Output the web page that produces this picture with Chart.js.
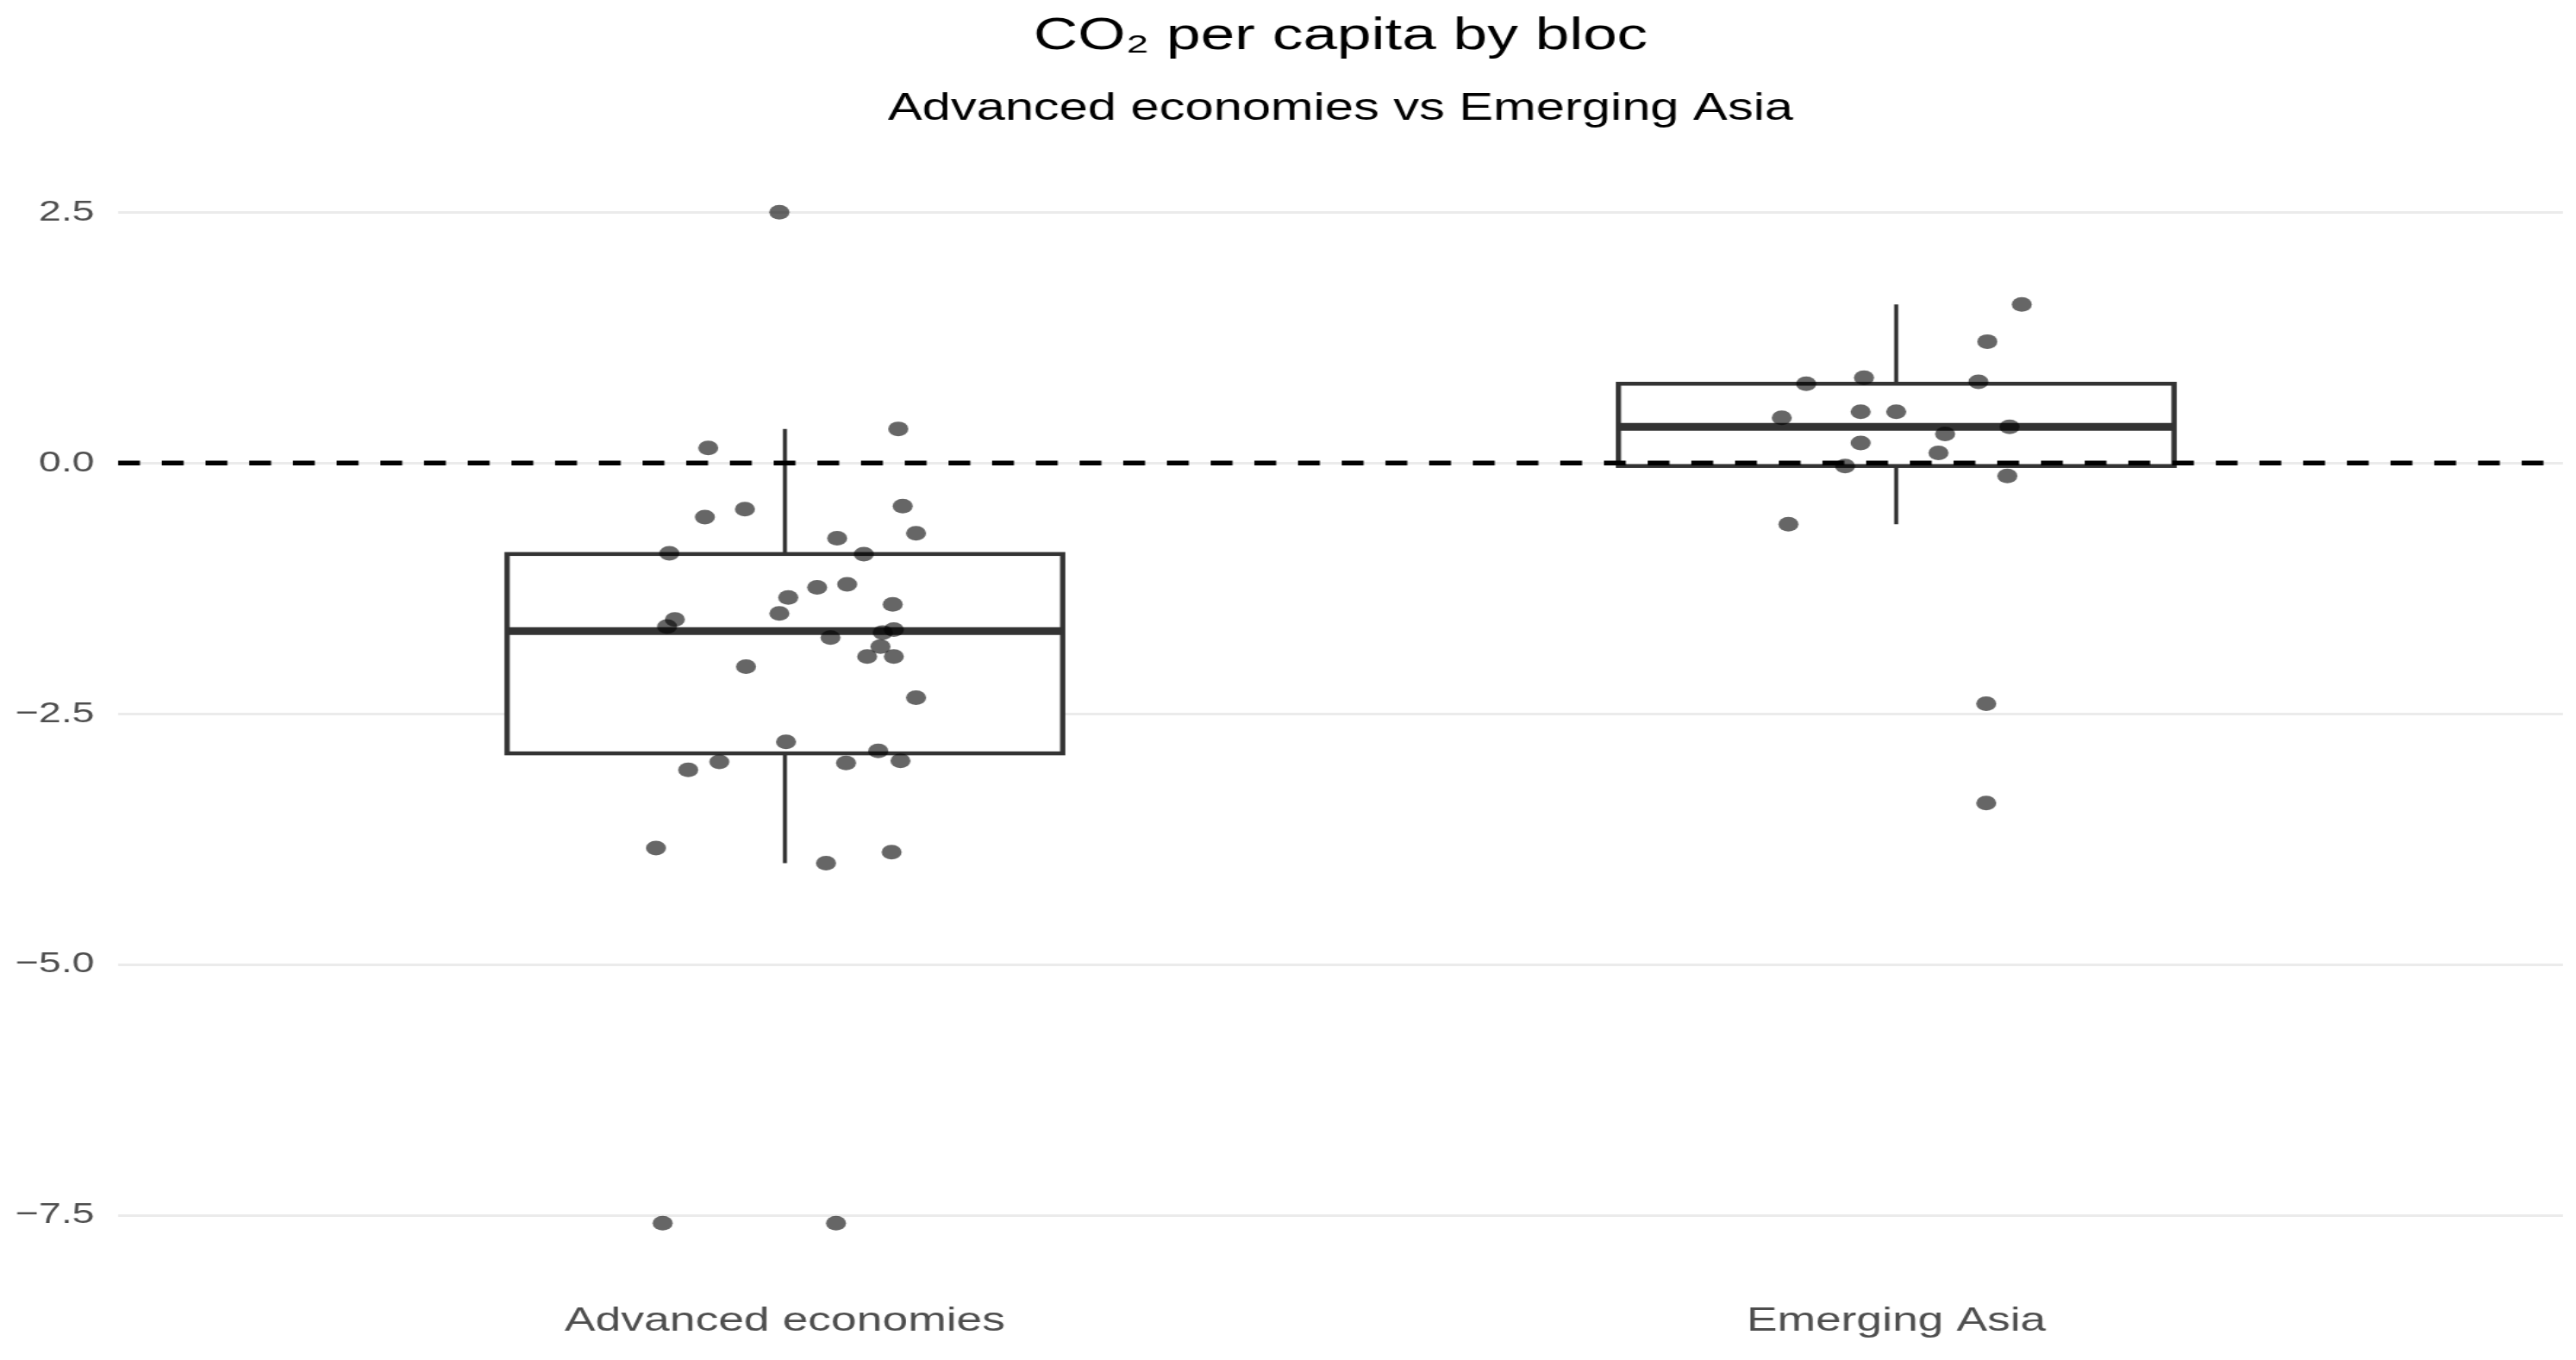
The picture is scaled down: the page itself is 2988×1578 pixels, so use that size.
<!DOCTYPE html>
<html lang="en">
<head>
    <meta charset="utf-8" />
    <title>CO2 per capita by bloc</title>
    <script src="https://cdn.jsdelivr.net/npm/chart.js@4.4.0/dist/chart.umd.min.js"></script>
    <style>
        html, body { margin: 0; padding: 0; background: #ffffff; overflow: hidden; }
        /* the reference is stretched sideways, so the chart is drawn narrower and widened */
        #wrap { position: relative; width: 2181px; height: 1578px; transform: scaleX(1.37); transform-origin: 0 0; }
    </style>
</head>
<body>
    <div id="wrap">
        <canvas id="blocChart"></canvas>
    </div>

    <script>
        // data
        var categories = ["Advanced economies", "Emerging Asia"];

        var advValues = [0.34, 0.15, -0.46, -0.54, -0.43, -0.70, -0.75, -0.90, -0.91, -1.24, -1.21, -1.34,
            -1.41, -1.50, -1.56, -1.63, -1.66, -1.69, -1.74, -1.83, -1.93, -1.93, -2.03, -2.34,
            -2.78, -2.87, -2.98, -2.99, -2.97, -3.06, -3.84, -3.88, -3.99, 2.50, -7.58, -7.58];
        var advJitter = [0.102, -0.069, -0.036, -0.072, 0.106, 0.118, 0.047, -0.104, 0.071, 0.029, 0.056, 0.003,
            0.097, -0.005, -0.099, -0.106, 0.098, 0.088, 0.041, 0.086, 0.074, 0.098, -0.035, 0.118,
            0.001, 0.084, -0.059, 0.055, 0.104, -0.087, -0.116, 0.096, 0.037, -0.005, -0.110, 0.046];

        var asiaValues = [1.58, 1.21, 0.79, 0.85, 0.81, 0.45, 0.51, 0.51, 0.36, 0.29, 0.20, 0.10,
            -0.03, -0.13, -0.61, -2.40, -3.39];
        var asiaJitter = [0.113, 0.082, -0.081, -0.029, 0.074, -0.103, -0.032, 0.000, 0.102, 0.044, -0.032, 0.038,
            -0.046, 0.100, -0.097, 0.081, 0.081];

        var yTicks = [2.5, 0, -2.5, -5, -7.5];
        var refLine = 0;

        var groups = [advValues, asiaValues];
        var jitters = [advJitter, asiaJitter];

        // quantile like R type 7
        function quantile(sorted, p) {
            var h = (sorted.length - 1) * p;
            var lo = Math.floor(h);
            var hi = Math.ceil(h);
            return sorted[lo] + (h - lo) * (sorted[hi] - sorted[lo]);
        }

        function boxStats(vals) {
            var s = vals.slice().sort(function (a, b) { return a - b; });
            var q1 = quantile(s, 0.25), med = quantile(s, 0.5), q3 = quantile(s, 0.75);
            var iqr = q3 - q1;
            var inside = s.filter(function (v) { return v >= q1 - 1.5 * iqr && v <= q3 + 1.5 * iqr; });
            return { q1: q1, med: med, q3: q3, lo: inside[0], hi: inside[inside.length - 1] };
        }

        var allValues = advValues.concat(asiaValues);
        var yMin = Math.min.apply(null, allValues);
        var yMax = Math.max.apply(null, allValues);
        var yPad = (yMax - yMin) * 0.05;

        var BOX_W = 0.5;
        var lineCol = "#333333";

        var boxPlugin = {
            id: "boxes",
            beforeDatasetsDraw: function (chart) {
                var ctx = chart.ctx;
                var area = chart.chartArea;
                var x = chart.scales.x, y = chart.scales.y;

                groups.forEach(function (vals, i) {
                    var st = boxStats(vals);
                    var x0 = x.getPixelForValue(i - BOX_W / 2);
                    var x1 = x.getPixelForValue(i + BOX_W / 2);
                    var xc = x.getPixelForValue(i);
                    ctx.save();
                    ctx.strokeStyle = lineCol;

                    // whiskers
                    ctx.lineWidth = 3.5;
                    ctx.beginPath();
                    ctx.moveTo(xc, y.getPixelForValue(st.hi));
                    ctx.lineTo(xc, y.getPixelForValue(st.q3));
                    ctx.moveTo(xc, y.getPixelForValue(st.q1));
                    ctx.lineTo(xc, y.getPixelForValue(st.lo));
                    ctx.stroke();

                    // box
                    var yt = y.getPixelForValue(st.q3), yb = y.getPixelForValue(st.q1);
                    ctx.fillStyle = "#ffffff";
                    ctx.fillRect(x0, yt, x1 - x0, yb - yt);
                    ctx.lineWidth = 4.5;
                    ctx.strokeRect(x0, yt, x1 - x0, yb - yt);

                    // median
                    ctx.lineWidth = 9;
                    ctx.beginPath();
                    ctx.moveTo(x0, y.getPixelForValue(st.med));
                    ctx.lineTo(x1, y.getPixelForValue(st.med));
                    ctx.stroke();
                    ctx.restore();
                });

                // dashed reference line
                var yr = y.getPixelForValue(refLine);
                ctx.save();
                ctx.strokeStyle = "#000000";
                ctx.lineWidth = 5.5;
                ctx.setLineDash([18.5, 18.5]);
                ctx.beginPath();
                ctx.moveTo(area.left, yr);
                ctx.lineTo(area.right, yr);
                ctx.stroke();
                ctx.restore();
            }
        };

        var datasets = groups.map(function (vals, i) {
            return {
                label: categories[i],
                data: vals.map(function (v, k) { return { x: i + jitters[i][k], y: v }; }),
                backgroundColor: "rgba(0,0,0,0.6)",
                borderWidth: 0,
                pointRadius: 8.5,
                pointHoverRadius: 8.5
            };
        });

        var ctxC = document.getElementById("blocChart").getContext("2d");
        var chart = new Chart(ctxC, {
            type: "scatter",
            data: { datasets: datasets },
            options: {
                responsive: true,
                maintainAspectRatio: false,
                animation: false,
                layout: {
                    padding: { left: 0, right: 11, top: 0, bottom: 0 }
                },
                scales: {
                    x: {
                        type: "linear",
                        min: -0.6,
                        max: 1.6,
                        grid: { display: false, drawTicks: false },
                        border: { display: false },
                        afterBuildTicks: function (axis) {
                            axis.ticks = categories.map(function (c, i) { return { value: i }; });
                        },
                        afterFit: function (axis) {
                            axis.height = 100;
                        },
                        ticks: {
                            autoSkip: false,
                            maxRotation: 0,
                            padding: 32,
                            color: "#4D4D4D",
                            font: { family: "Liberation Sans", size: 39 },
                            callback: function (v) { return categories[v]; }
                        }
                    },
                    y: {
                        min: yMin - yPad,
                        max: yMax + yPad,
                        grid: { color: "#EBEBEB", lineWidth: 3, drawTicks: false },
                        border: { display: false },
                        afterBuildTicks: function (axis) {
                            axis.ticks = yTicks.map(function (v) { return { value: v }; });
                        },
                        afterFit: function (axis) {
                            axis.width = 100;
                        },
                        ticks: {
                            padding: 20,
                            color: "#4D4D4D",
                            font: { family: "Liberation Sans", size: 34 },
                            callback: function (v) { return v.toFixed(1).replace("-", "\u2212"); }
                        }
                    }
                },
                plugins: {
                    legend: { display: false },
                    tooltip: { enabled: false },
                    title: {
                        display: true,
                        fullSize: false,
                        text: "CO\u2082 per capita by bloc",
                        color: "#000000",
                        font: { family: "Liberation Sans", size: 52, weight: "normal" },
                        padding: { top: 11, bottom: 0 }
                    },
                    subtitle: {
                        display: true,
                        fullSize: false,
                        text: "Advanced economies vs Emerging Asia",
                        color: "#000000",
                        font: { family: "Liberation Sans", size: 43.5, weight: "normal" },
                        padding: { top: 27, bottom: 35 }
                    }
                }
            },
            plugins: [boxPlugin]
        });
    </script>
</body>
</html>
